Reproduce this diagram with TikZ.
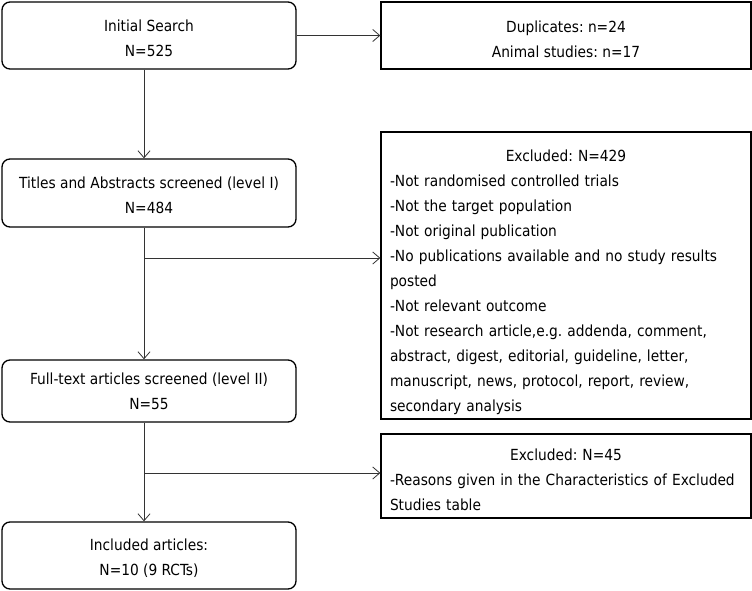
\documentclass[tikz,border=0pt]{standalone}
\usepackage{fontspec}
\setmainfont{DejaVu Sans Condensed}
\usetikzlibrary{arrows.meta, positioning}
\frenchspacing
\newcommand{\lift}[1]{\rule{0pt}{#1}}

\begin{document}
\begin{tikzpicture}[
    x=1pt, y=-1pt,
    font=\fontsize{15.3}{25}\selectfont,
    stage/.style={rectangle, rounded corners=8pt, draw=black, line width=1.3pt,
                  minimum width=294pt, align=center, inner sep=0pt},
    excl/.style={rectangle, draw=black, line width=1.3pt,
                 minimum width=370pt, inner sep=0pt},
    arr/.style={-{Straight Barb[length=7pt, width=12pt]}, line width=0.8pt, draw=black!80}
]
\useasboundingbox (0,0) rectangle (752,591);
\node[stage, minimum height=67pt] (search) at (149,35.5) {\lift{17.6pt}Initial Search\\N=525};
\node[excl, minimum height=67pt, align=center] (dup) at (566,35.5) {\lift{19.6pt}Duplicates: n=24\\Animal studies: n=17};
\node[stage, minimum height=68pt] (titles) at (149,193) {\lift{15.6pt}Titles and Abstracts screened (level I)\\N=484};
\node[excl, minimum height=287pt, text width=352pt, align=left] (excl1) at (566,275.5)
    {\makebox[\linewidth]{\lift{24.6pt}Excluded: N=429}\\
     -Not randomised controlled trials\\
     -Not the target population\\
     -Not original publication\\
     -No publications available and no study results\\
     posted\\
     -Not relevant outcome\\
     -Not research article,e.g. addenda, comment,\\
     abstract, digest, editorial, guideline, letter,\\
     manuscript, news, protocol, report, review,\\
     secondary analysis};
\node[stage, minimum height=62pt] (fulltext) at (149,391) {Full-text articles screened (level II)\\N=55};
\node[excl, minimum height=84pt, text width=352pt, align=left] (excl2) at (566,476)
    {\makebox[\linewidth]{\lift{19.6pt}Excluded: N=45}\\
     -Reasons given in the Characteristics of Excluded\\
     Studies table};
\node[stage, minimum height=67pt] (included) at (149,555.5) {\lift{17.6pt}Included articles:\\N=10 (9 RCTs)};
\coordinate (spine) at (144,0);
\coordinate (fork1) at (144,258);
\coordinate (fork2) at (144,473);
\draw[arr] (search) -- (dup);
\draw[arr] (search.south -| spine) -- (titles.north -| spine);
\draw[arr] (fork1) -- (fork1 -| excl1.west);
\draw[arr] (titles.south -| spine) -- (fulltext.north -| spine);
\draw[arr] (fork2) -- (fork2 -| excl2.west);
\draw[arr] (fulltext.south -| spine) -- (included.north -| spine);
\end{tikzpicture}
\end{document}
